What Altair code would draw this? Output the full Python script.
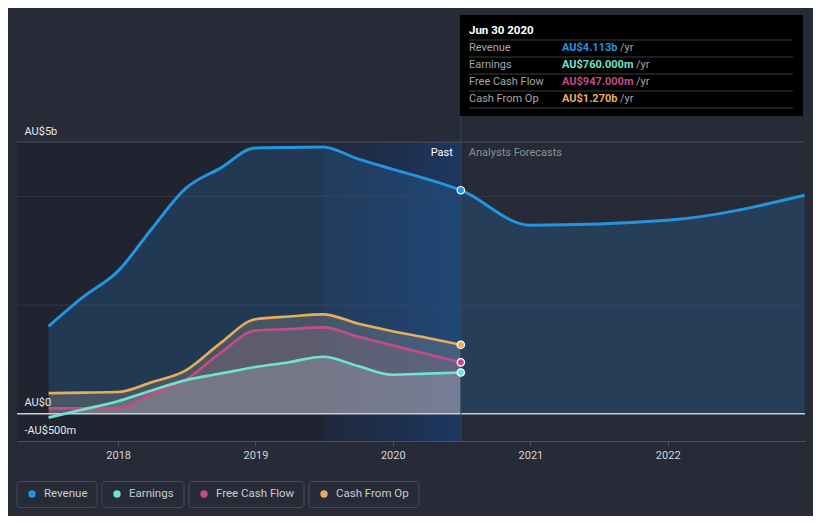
import altair as alt
import pandas as pd

# ---------------- data ----------------
past_dates = ["2017-06-30", "2017-09-30", "2017-12-31", "2018-03-31", "2018-06-30",
              "2018-09-30", "2018-12-31", "2019-03-31", "2019-06-30", "2019-09-30",
              "2019-12-31", "2020-03-31", "2020-06-30"]
revenue = [1.61, 2.15, 2.62, 3.40, 4.15, 4.52, 4.89, 4.90, 4.91, 4.69, 4.50, 4.32, 4.113]
earnings = [-0.07, 0.08, 0.23, 0.43, 0.62, 0.74, 0.86, 0.95, 1.05, 0.88, 0.72, 0.74, 0.76]
free_cash_flow = [0.10, 0.10, 0.10, 0.36, 0.63, 1.12, 1.53, 1.56, 1.59, 1.42, 1.26, 1.10, 0.947]
cash_from_op = [0.38, 0.39, 0.40, 0.58, 0.80, 1.30, 1.74, 1.79, 1.83, 1.66, 1.52, 1.40, 1.27]

forecast_dates = ["2020-06-30", "2020-12-31", "2021-12-31", "2022-12-31"]
revenue_forecast = [4.113, 3.47, 3.56, 4.02]

series_names = ["Revenue", "Earnings", "Free Cash Flow", "Cash From Op"]
series_colors = ["#2394df", "#6fe3cf", "#c64b89", "#e8ad5b"]

tooltip_date = "Jun 30 2020"
tooltip_values = ["AU$4.113b", "AU$760.000m", "AU$947.000m", "AU$1.270b"]

x_tick_years = [2018, 2019, 2020, 2021, 2022]
y_tick_values = [5, 0, -0.5]
y_tick_labels = ["AU$5b", "AU$0", "-AU$500m"]
grid_values = [2, 4]

past_end = "2020-06-30"
highlight_start = "2019-06-30"

# ---------------- helpers ----------------
FONT = "Roboto"
BG = "#262b37"

def dt(s):
    y, m, d = (int(v) for v in s.split("-"))
    return alt.DateTime(year=y, month=m, date=d, utc=True)

x_scale = alt.Scale(type="utc", domain=[dt("2017-04-07"), dt("2023-01-01")])
y_scale = alt.Scale(domain=[-0.5, 5], nice=False, zero=False)

label_expr = " : ".join(
    f"datum.value == {v} ? '{l}'" for v, l in zip(y_tick_values, y_tick_labels)
) + " : ''"

x_axis = alt.Axis(
    values=[alt.DateTime(year=y, month=1, date=1, utc=True) for y in x_tick_years],
    labelExpr="utcFormat(datum.value, '%Y')",
    grid=False, domainColor="#4a505c", tickColor="#4a505c", tickSize=5,
    labelColor="#d2d4d8", labelFontSize=11, labelPadding=3, labelFont=FONT,
    title=None, zindex=1,
)
y_axis = alt.Axis(
    values=y_tick_values, labelExpr=label_expr, grid=False, domain=False,
    ticks=False, tickSize=0, labelAlign="left", labelPadding=-7,
    labelBaseline="bottom", labelOffset=-6, labelColor="#e6e7ea",
    labelFontSize=11, labelFont=FONT, title=None, zindex=1, labelOverlap=False,
)

def X(field="date"):
    return alt.X(f"{field}:T", scale=x_scale, axis=x_axis)

def Y(field="value"):
    return alt.Y(f"{field}:Q", scale=y_scale, axis=y_axis)

def XD(s):
    return alt.X(datum=dt(s), type="temporal", scale=x_scale, axis=x_axis)

def YD(v):
    return alt.Y(datum=v, type="quantitative", scale=y_scale, axis=y_axis)

values_by_name = {
    "Revenue": revenue,
    "Earnings": earnings,
    "Free Cash Flow": free_cash_flow,
    "Cash From Op": cash_from_op,
}
color_by_name = dict(zip(series_names, series_colors))

def series_df(name):
    return pd.DataFrame({"date": past_dates, "value": values_by_name[name]})

rev_all = pd.DataFrame({"date": past_dates + forecast_dates[1:],
                        "value": revenue + revenue_forecast[1:]})

base_df = pd.DataFrame({"k": [0]})
base = alt.Chart(base_df)

layers = []

# past dark background
layers.append(base.mark_rect(color="#1f2430").encode(
    x=XD("2017-04-07"), x2=alt.X2(datum=dt(past_end)),
    y=YD(5), y2=alt.Y2(datum=-0.5)))

# last-year highlight band
layers.append(base.mark_rect(
    color=alt.Gradient(gradient="linear", x1=0, x2=1, y1=0, y2=0,
                       stops=[alt.GradientStop(color="rgba(28,60,110,0.20)", offset=0),
                              alt.GradientStop(color="rgba(28,70,140,0.55)", offset=1)])
).encode(x=XD(highlight_start), x2=alt.X2(datum=dt(past_end)),
         y=YD(5), y2=alt.Y2(datum=-0.5)))

# gridlines
layers.append(alt.Chart(pd.DataFrame({"g": grid_values})).mark_rule(
    color="#323845", strokeWidth=1).encode(y=Y("g")))
layers.append(base.mark_rule(color="#4a505c", strokeWidth=1).encode(y=YD(5)))

# revenue area
layers.append(alt.Chart(rev_all).mark_area(
    interpolate="monotone", color="#2a6fb0", opacity=0.28
).encode(x=X(), y=Y(), y2=alt.Y2(datum=0)))

# other areas
area_styles = {
    "Cash From Op": ("#c8bca0", 0.22),
    "Free Cash Flow": ("#b87890", 0.20),
    "Earnings": ("#c8ccd4", 0.24),
}
for name in ["Cash From Op", "Free Cash Flow", "Earnings"]:
    col, op = area_styles[name]
    layers.append(alt.Chart(series_df(name)).mark_area(
        interpolate="monotone", color=col, opacity=op
    ).encode(x=X(), y=Y(), y2=alt.Y2(datum=0)))

# zero line
layers.append(base.mark_rule(color="#c9cdd6", strokeWidth=1.5).encode(y=YD(0)))

# past/forecast divider
layers.append(base.mark_rule(color="#34465e", strokeWidth=1).encode(
    x=XD(past_end), y=alt.value(-27), y2=alt.value(299)))

# lines
layers.append(alt.Chart(rev_all).mark_line(
    interpolate="monotone", color=color_by_name["Revenue"], strokeWidth=3
).encode(x=X(), y=Y()))
for name in ["Cash From Op", "Free Cash Flow", "Earnings"]:
    layers.append(alt.Chart(series_df(name)).mark_line(
        interpolate="monotone", color=color_by_name[name], strokeWidth=2.6
    ).encode(x=X(), y=Y()))

# end points
for name in series_names:
    end_df = pd.DataFrame({"date": [past_dates[-1]], "value": [values_by_name[name][-1]]})
    layers.append(alt.Chart(end_df).mark_circle(
        size=55, color=color_by_name[name], opacity=1, stroke="#ffffff", strokeWidth=1.2
    ).encode(x=X(), y=Y()))

# Past / Analysts Forecasts labels
layers.append(base.mark_text(
    text="Past", align="right", baseline="middle", dx=-8, color="#ffffff",
    font=FONT, fontSize=11).encode(x=XD(past_end), y=alt.value(11)))
layers.append(base.mark_text(
    text="Analysts Forecasts", align="left", baseline="middle", dx=8, color="#8b909a",
    font=FONT, fontSize=11).encode(x=XD(past_end), y=alt.value(11)))

# tooltip box
layers.append(base.mark_rect(color="#000000").encode(
    x=alt.value(443), x2=alt.value(786), y=alt.value(-127), y2=alt.value(-26)))
layers.append(base.mark_text(
    text=tooltip_date, align="left", baseline="middle", color="#ffffff",
    font=FONT, fontSize=11.5, fontWeight="bold").encode(
    x=alt.value(452), y=alt.value(-111)))
row_y = [-93.7, -76.7, -60, -43]
sep_y = [-102, -85, -68, -51, -34]
for sy in sep_y:
    layers.append(base.mark_rule(color="#3a3c40", strokeWidth=1).encode(
        x=alt.value(452), x2=alt.value(776), y=alt.value(sy)))
for i, name in enumerate(series_names):
    layers.append(base.mark_text(
        text=name, align="left", baseline="middle", color="#a3a6ab",
        font=FONT, fontSize=11).encode(x=alt.value(452), y=alt.value(row_y[i])))
    val = tooltip_values[i]
    layers.append(base.mark_text(
        text=val, align="left", baseline="middle", color=color_by_name[name],
        font=FONT, fontSize=11, fontWeight="bold").encode(
        x=alt.value(545), y=alt.value(row_y[i])))
    layers.append(base.mark_text(
        text="/yr", align="left", baseline="middle", color="#a3a6ab",
        font=FONT, fontSize=11, dx=8 * len(val) - 14).encode(
        x=alt.value(545), y=alt.value(row_y[i])))

# legend
box_x = [0, 85, 172, 292]
box_x2 = [80, 167, 287, 402]
for i, name in enumerate(series_names):
    layers.append(base.mark_rect(
        fill=BG, fillOpacity=0, stroke="#454b58", strokeWidth=1, cornerRadius=3
    ).encode(x=alt.value(box_x[i]), x2=alt.value(box_x2[i]),
             y=alt.value(339.5), y2=alt.value(365.5)))
    layers.append(base.mark_circle(size=55, color=color_by_name[name], opacity=1).encode(
        x=alt.value(box_x[i] + 15), y=alt.value(352)))
    layers.append(base.mark_text(
        text=name, align="left", baseline="middle", color="#c9cbd0",
        font=FONT, fontSize=11.5).encode(x=alt.value(box_x[i] + 27), y=alt.value(352)))

chart = alt.layer(*layers).properties(
    width=788, height=299,
    padding={"left": 9, "top": 134, "right": 8, "bottom": 75},
    autosize=alt.AutoSizeParams(type="none"),
    background=BG,
).configure_view(stroke=None)

chart.save("out.html", embed_options={"renderer": "svg", "actions": False})
